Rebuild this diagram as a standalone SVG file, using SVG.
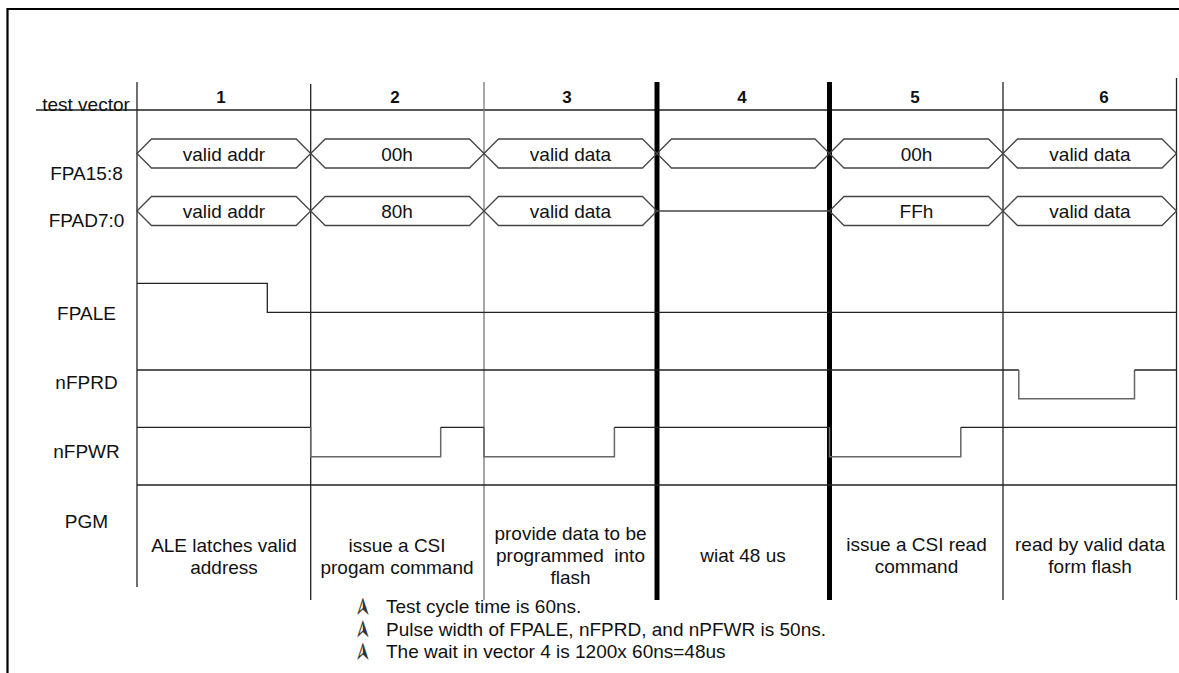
<svg xmlns="http://www.w3.org/2000/svg" width="1179" height="673" viewBox="0 0 1179 673">
<style>
text{font-family:"Liberation Sans",Arial,sans-serif;font-size:19px;fill:#111}
.lbl{text-anchor:middle}
.hd{text-anchor:middle;font-weight:bold;font-size:17px}
.c{text-anchor:middle}
.col{stroke:#222;stroke-width:1.3;fill:none}
.colg{stroke:#777;stroke-width:1.3;fill:none}
.thick{stroke:#000;stroke-width:5;fill:none}
.bus{stroke:#444;stroke-width:1.3;fill:none}
.sig{stroke:#222;stroke-width:1.3;fill:none}
.low{stroke:#666;stroke-width:1.5;fill:none}
.frame{stroke:#000;stroke-width:2.2;fill:none}
.bul{font-family:"DejaVu Sans",sans-serif;font-size:26px;fill:#333}
</style>
<g id="frame"><path class="frame" d="M7.5,673 V9 H1179"/></g>
<g id="connectors">
<line class="col" x1="36" y1="110" x2="1176.5" y2="110"/>
<line class="col" x1="137" y1="82" x2="137" y2="587"/>
<line class="col" x1="310.7" y1="84" x2="310.7" y2="600"/>
<line class="colg" x1="484" y1="82" x2="484" y2="600"/>
<line class="thick" x1="657" y1="82" x2="657" y2="600"/>
<line class="thick" x1="829.5" y1="82" x2="829.5" y2="600"/>
<line class="col" x1="1003" y1="82" x2="1003" y2="600"/>
<line class="col" x1="1176.5" y1="78" x2="1176.5" y2="600"/>
<polyline class="sig" points="137,283.3 267.3,283.3 267.3,312.3 1176.5,312.3"/>
<polyline class="sig" points="137,370 1018.8,370"/>
<polyline class="low" points="1018.8,370 1018.8,398.7 1134.5,398.7 1134.5,370"/>
<polyline class="sig" points="1134.5,370 1176.5,370"/>
<polyline class="sig" points="137,427.3 310.7,427.3"/>
<polyline class="low" points="310.7,427.3 310.7,456.7 440.7,456.7 440.7,427.3"/>
<polyline class="sig" points="440.7,427.3 484,427.3"/>
<polyline class="low" points="484,427.3 484,456.7 614.4,456.7 614.4,427.3"/>
<polyline class="sig" points="614.4,427.3 829.5,427.3"/>
<polyline class="low" points="829.5,427.3 829.5,456.7 960.8,456.7 960.8,427.3"/>
<polyline class="sig" points="960.8,427.3 1176.5,427.3"/>
<line class="sig" x1="137" y1="485" x2="1176.5" y2="485"/>
</g>
<g id="labels">
<text class="lbl" x="86" y="111">test vector</text>
<text class="lbl" x="86.5" y="180">FPA15:8</text>
<text class="lbl" x="86.5" y="227">FPAD7:0</text>
<text class="lbl" x="86.5" y="320">FPALE</text>
<text class="lbl" x="86.5" y="389">nFPRD</text>
<text class="lbl" x="86.5" y="458">nFPWR</text>
<text class="lbl" x="86.5" y="528">PGM</text>
</g>
<g id="headers">
<text class="hd" x="221" y="103">1</text>
<text class="hd" x="395" y="103">2</text>
<text class="hd" x="567" y="103">3</text>
<text class="hd" x="742" y="103">4</text>
<text class="hd" x="915" y="103">5</text>
<text class="hd" x="1104" y="103">6</text>
</g>
<g id="bus-FPA15-8">
<polygon class="bus" points="137,153.5 151.5,139 296.2,139 310.7,153.5 296.2,168 151.5,168"/>
<polygon class="bus" points="310.7,153.5 325.2,139 469.5,139 484,153.5 469.5,168 325.2,168"/>
<polygon class="bus" points="484,153.5 498.5,139 642.5,139 657,153.5 642.5,168 498.5,168"/>
<polygon class="bus" points="657,153.5 671.5,139 815,139 829.5,153.5 815,168 671.5,168"/>
<polygon class="bus" points="829.5,153.5 844,139 988.5,139 1003,153.5 988.5,168 844,168"/>
<polygon class="bus" points="1003,153.5 1017.5,139 1162,139 1176.5,153.5 1162,168 1017.5,168"/>
<text class="c" x="224" y="160.5">valid addr</text>
<text class="c" x="397" y="160.5">00h</text>
<text class="c" x="570.5" y="160.5">valid data</text>
<text class="c" x="916.5" y="160.5">00h</text>
<text class="c" x="1090" y="160.5">valid data</text>
</g>
<g id="bus-FPAD7-0">
<polygon class="bus" points="137,211 151.5,196.5 296.2,196.5 310.7,211 296.2,225.5 151.5,225.5"/>
<polygon class="bus" points="310.7,211 325.2,196.5 469.5,196.5 484,211 469.5,225.5 325.2,225.5"/>
<polygon class="bus" points="484,211 498.5,196.5 642.5,196.5 657,211 642.5,225.5 498.5,225.5"/>
<line class="bus" x1="657" y1="211" x2="829.5" y2="211"/>
<polygon class="bus" points="829.5,211 844,196.5 988.5,196.5 1003,211 988.5,225.5 844,225.5"/>
<polygon class="bus" points="1003,211 1017.5,196.5 1162,196.5 1176.5,211 1162,225.5 1017.5,225.5"/>
<text class="c" x="224" y="218">valid addr</text>
<text class="c" x="397" y="218">80h</text>
<text class="c" x="570.5" y="218">valid data</text>
<text class="c" x="916.5" y="218">FFh</text>
<text class="c" x="1090" y="218">valid data</text>
</g>
<g id="pgm">
<text class="c" x="224" y="552">ALE latches valid</text>
<text class="c" x="224" y="574">address</text>
<text class="c" x="397" y="552">issue a CSI</text>
<text class="c" x="397" y="574">progam command</text>
<text class="c" x="570.5" y="540">provide data to be</text>
<text class="c" x="570.5" y="562" style="white-space:pre" xml:space="preserve">programmed  into</text>
<text class="c" x="570.5" y="584">flash</text>
<text class="c" x="743" y="562">wiat 48 us</text>
<text class="c" x="916.5" y="551">issue a CSI read</text>
<text class="c" x="916.5" y="573">command</text>
<text class="c" x="1090" y="551">read by valid data</text>
<text class="c" x="1090" y="573">form flash</text>
</g>
<g id="notes">
<text class="bul" x="0" y="0" transform="translate(362,607) rotate(-90)" text-anchor="middle" dominant-baseline="central">➢</text>
<text class="bul" x="0" y="0" transform="translate(362,629.5) rotate(-90)" text-anchor="middle" dominant-baseline="central">➢</text>
<text class="bul" x="0" y="0" transform="translate(362,652) rotate(-90)" text-anchor="middle" dominant-baseline="central">➢</text>
<text x="386" y="613">Test cycle time is 60ns.</text>
<text x="386" y="635.5">Pulse width of FPALE, nFPRD, and nPFWR is 50ns.</text>
<text x="386" y="658">The wait in vector 4 is 1200x 60ns=48us</text>
</g>
</svg>
